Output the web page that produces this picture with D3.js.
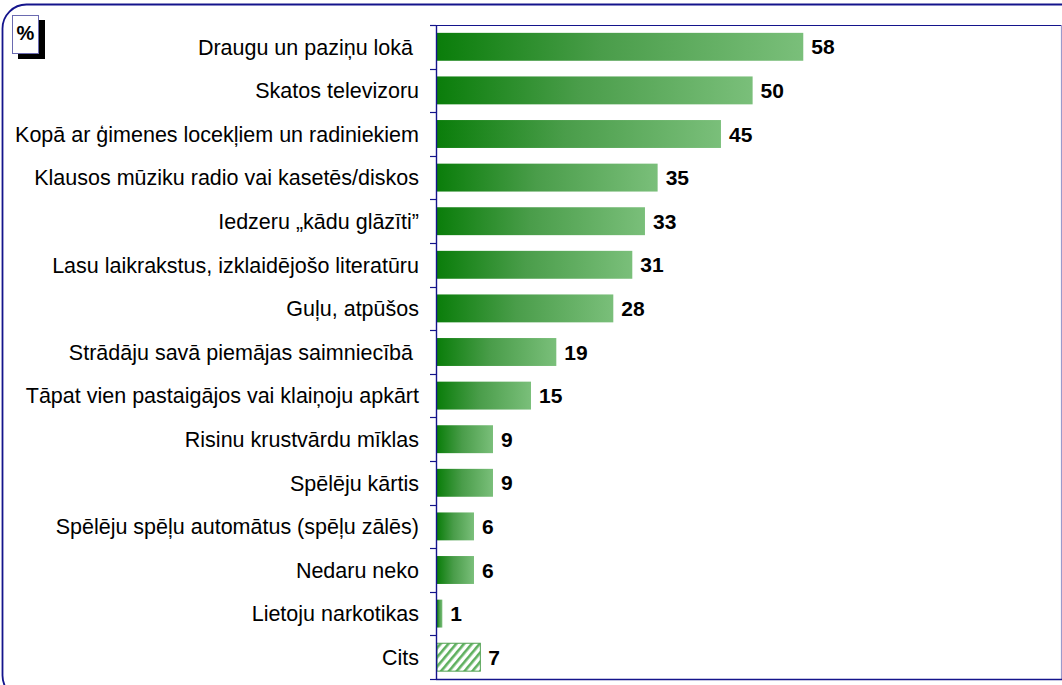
<!DOCTYPE html>
<html>
<head>
<meta charset="utf-8">
<script src="https://cdn.jsdelivr.net/npm/d3@7"></script>
<style>
  body { margin: 0; background: #fff; }
  svg { display: block; }
  .lbl { font-family: Arial, "Liberation Sans", sans-serif; font-size: 21.5px; fill: #000; }
  .val { font-family: Arial, "Liberation Sans", sans-serif; font-size: 21px; font-weight: bold; fill: #000; }
</style>
</head>
<body>
<div id="chart"></div>
<script>
// categories, top to bottom
var categories = [
  'Draugu un paziņu lokā ',
  'Skatos televizoru',
  'Kopā ar ģimenes locekļiem un radiniekiem',
  'Klausos mūziku radio vai kasetēs/diskos',
  'Iedzeru „kādu glāzīti”',
  'Lasu laikrakstus, izklaidējošo literatūru',
  'Guļu, atpūšos',
  'Strādāju savā piemājas saimniecībā ',
  'Tāpat vien pastaigājos vai klaiņoju apkārt',
  'Risinu krustvārdu mīklas',
  'Spēlēju kārtis',
  'Spēlēju spēļu automātus (spēļu zālēs)',
  'Nedaru neko',
  'Lietoju narkotikas',
  'Cits'
];
var values = [58, 50, 45, 35, 33, 31, 28, 19, 15, 9, 9, 6, 6, 1, 7];
var hatched = ['Cits'];

var width = 1062, height = 685;
var plot = {left: 436, right: 1061, top: 25, bottom: 679};

var svg = d3.select('#chart').append('svg')
    .attr('width', width)
    .attr('height', height);

var defs = svg.append('defs');

var grad = defs.append('linearGradient')
    .attr('id', 'barGrad')
    .attr('x1', 0).attr('x2', 1).attr('y1', 0).attr('y2', 0);
grad.append('stop').attr('offset', '0%').attr('stop-color', '#0a7d0a');
grad.append('stop').attr('offset', '45%').attr('stop-color', '#4a9d4a');
grad.append('stop').attr('offset', '100%').attr('stop-color', '#7abf7a');

var hatch = defs.append('pattern')
    .attr('id', 'hatch')
    .attr('patternUnits', 'userSpaceOnUse')
    .attr('width', 6).attr('height', 6)
    .attr('patternTransform', 'rotate(40)');
hatch.append('rect').attr('width', 6).attr('height', 6).attr('fill', '#fff');
hatch.append('rect').attr('width', 2.6).attr('height', 6).attr('fill', '#5fb05f');

// outer rounded frame (runs on past the right and bottom of the picture)
svg.append('rect')
    .attr('x', 2.5).attr('y', 4.5)
    .attr('width', 1090).attr('height', 695)
    .attr('rx', 24).attr('ry', 24)
    .attr('fill', 'none')
    .attr('stroke', '#14148c')
    .attr('stroke-width', 1.8);

// % box
svg.append('rect')
    .attr('x', 18).attr('y', 20).attr('width', 27).attr('height', 39)
    .attr('fill', '#000');
svg.append('rect')
    .attr('x', 12.5).attr('y', 15.5).attr('width', 26).attr('height', 38)
    .attr('fill', '#fff').attr('stroke', '#6a6ab0').attr('stroke-width', 1);
svg.append('text')
    .attr('class', 'val')
    .attr('x', 25.5).attr('y', 40)
    .attr('text-anchor', 'middle')
    .style('font-size', '20px')
    .text('%');

var x = d3.scaleLinear()
    .domain([0, 98.7])
    .range([plot.left, plot.right]);

var y = d3.scaleBand()
    .domain(categories)
    .range([plot.top, plot.bottom])
    .paddingInner(0.36)
    .paddingOuter(0.18);

// plot area borders
svg.append('line')
    .attr('x1', 430).attr('x2', width)
    .attr('y1', plot.top + 0.5).attr('y2', plot.top + 0.5)
    .attr('stroke', '#14148c').attr('stroke-width', 1.2);
svg.append('line')
    .attr('x1', plot.right + 0.5).attr('x2', plot.right + 0.5)
    .attr('y1', plot.top).attr('y2', plot.bottom)
    .attr('stroke', '#9a9acc').attr('stroke-width', 1.2);
svg.append('line')
    .attr('x1', plot.left).attr('x2', width)
    .attr('y1', plot.bottom + 0.5).attr('y2', plot.bottom + 0.5)
    .attr('stroke', '#14148c').attr('stroke-width', 1.4);

// bars
svg.selectAll('rect.bar').data(categories).enter()
  .append('rect')
    .attr('class', 'bar')
    .attr('x', plot.left + 1)
    .attr('y', function(d) { return y(d); })
    .attr('width', function(d, i) { return x(values[i]) - plot.left - 1; })
    .attr('height', y.bandwidth())
    .attr('fill', function(d) { return hatched.indexOf(d) >= 0 ? 'url(#hatch)' : 'url(#barGrad)'; })
    .attr('stroke', function(d) { return hatched.indexOf(d) >= 0 ? '#4fa04f' : 'none'; })
    .attr('stroke-width', 1);

// left axis with ticks at category boundaries
var boundaries = d3.range(categories.length + 1).map(function(i) { return plot.top + i * (plot.bottom - plot.top) / categories.length; });
svg.append('line')
    .attr('x1', plot.left + 0.5).attr('x2', plot.left + 0.5)
    .attr('y1', plot.top).attr('y2', plot.bottom)
    .attr('stroke', '#14148c').attr('stroke-width', 1.4);
svg.selectAll('line.tick').data(boundaries).enter()
  .append('line')
    .attr('class', 'tick')
    .attr('x1', 430).attr('x2', plot.left)
    .attr('y1', function(d) { return Math.round(d) + 0.5; })
    .attr('y2', function(d) { return Math.round(d) + 0.5; })
    .attr('stroke', '#14148c').attr('stroke-width', 1.2);

// category labels
svg.selectAll('text.lbl').data(categories).enter()
  .append('text')
    .attr('class', 'lbl')
    .attr('x', 419)
    .attr('y', function(d) { return y(d) + y.bandwidth() / 2; })
    .attr('dy', '0.36em')
    .attr('text-anchor', 'end')
    .style('white-space', 'pre')
    .text(function(d) { return d; });

// value labels
svg.selectAll('text.valLbl').data(categories).enter()
  .append('text')
    .attr('class', 'val valLbl')
    .attr('x', function(d, i) { return x(values[i]) + 8; })
    .attr('y', function(d) { return y(d) + y.bandwidth() / 2; })
    .attr('dy', '0.36em')
    .text(function(d, i) { return values[i]; });
</script>
</body>
</html>
